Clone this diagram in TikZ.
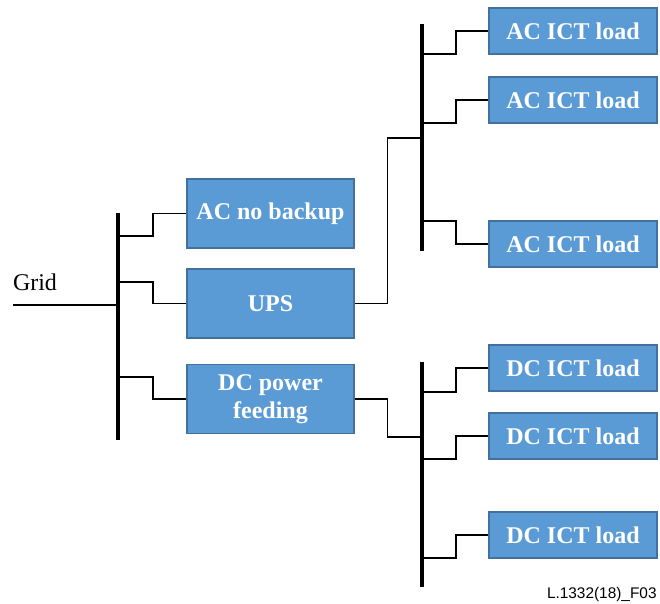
\documentclass[tikz,border=0pt]{standalone}
\usepackage{fontspec}
\setmainfont{Liberation Serif}
\newfontfamily\figidfont{Liberation Sans}
\usepackage{tikz}
\definecolor{boxblue}{HTML}{5B9BD5}
\definecolor{boxedge}{HTML}{41719C}

\begin{document}
\begin{tikzpicture}[x=0.5pt,y=-0.5pt,font=\fontsize{12}{14}\selectfont,
  unitbox/.style={rectangle,fill=boxblue,draw=boxedge,line width=0.6pt,text=white,font=\fontsize{12}{14}\selectfont\bfseries,align=center,inner sep=0pt},
  srcbox/.style={unitbox,minimum width=83.5pt,minimum height=34.5pt},
  loadbox/.style={unitbox,minimum width=84pt,minimum height=23pt},
  busbar/.style={line width=2pt},
  wire/.style={line width=0.7pt}]
\useasboundingbox (0,0) rectangle (660,604);
\node[srcbox] (nobackup) at (270.5,213.5) {AC no backup};
\node[srcbox] (ups) at (270.5,303.5) {UPS};
\node[srcbox] (dcfeed) at (270.5,399) {DC power\\feeding};
\node[loadbox] (acload1) at (573,31) {AC ICT load};
\node[loadbox] (acload2) at (573,100) {AC ICT load};
\node[loadbox] (acload3) at (573,244) {AC ICT load};
\node[loadbox] (dcload1) at (573,368) {DC ICT load};
\node[loadbox] (dcload2) at (573,436) {DC ICT load};
\node[loadbox] (dcload3) at (573,535) {DC ICT load};
\node[inner sep=0pt] (grid) at (35,282) {Grid};
\node[anchor=east,inner sep=0pt,font=\figidfont\fontsize{7.7}{9}\selectfont] (figid) at (657,595) {L.1332(18)\_F03};
\coordinate (gridin) at (13,305);
\coordinate (mainbustop) at (118,213);
\coordinate (mainbusbot) at (118,440);
\coordinate (mainin) at (118,305);
\coordinate (maintap1) at (118,236);
\coordinate (maintap2) at (118,282);
\coordinate (maintap3) at (118,377);
\coordinate (acbustop) at (422,24);
\coordinate (acbusbot) at (422,251);
\coordinate (acin) at (422,138);
\coordinate (actap1) at (422,54);
\coordinate (actap2) at (422,123);
\coordinate (actap3) at (422,221);
\coordinate (dcbustop) at (422,362);
\coordinate (dcbusbot) at (422,587);
\coordinate (dcin) at (422,437);
\coordinate (dctap1) at (422,392);
\coordinate (dctap2) at (422,459);
\coordinate (dctap3) at (422,558);
\draw[busbar] (mainbustop) -- (mainbusbot);
\draw[busbar] (acbustop) -- (acbusbot);
\draw[busbar] (dcbustop) -- (dcbusbot);
\draw[wire] (gridin) -- (mainin);
\draw[wire] (maintap1) -- ++(35,0) |- (nobackup.west);
\draw[wire] (maintap2) -- ++(35,0) |- (ups.west);
\draw[wire] (maintap3) -- ++(35,0) |- (dcfeed.west);
\draw[wire] (ups.east) -- ++(33,0) |- (acin);
\draw[wire] (dcfeed.east) -- ++(33,0) |- (dcin);
\draw[wire] (actap1) -- ++(34,0) |- (acload1.west);
\draw[wire] (actap2) -- ++(34,0) |- (acload2.west);
\draw[wire] (actap3) -- ++(34,0) |- (acload3.west);
\draw[wire] (dctap1) -- ++(34,0) |- (dcload1.west);
\draw[wire] (dctap2) -- ++(34,0) |- (dcload2.west);
\draw[wire] (dctap3) -- ++(34,0) |- (dcload3.west);
\end{tikzpicture}
\end{document}
